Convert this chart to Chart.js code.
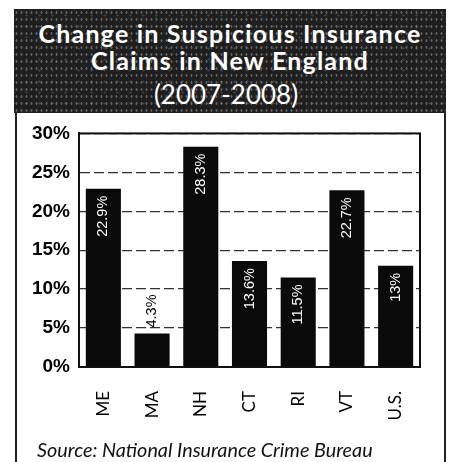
<!DOCTYPE html>
<html><head><meta charset="utf-8">
<script src="https://cdn.jsdelivr.net/npm/chart.js@4"></script>
<style>
html,body{margin:0;padding:0;background:#fff;width:453px;height:462px;overflow:hidden;}
#tb{position:absolute;left:14px;top:9px;width:432px;height:104px;background-color:#1e1e1e;
 background-image:radial-gradient(rgba(255,255,255,0.30) 0.7px, transparent 1.3px),radial-gradient(rgba(200,200,200,0.24) 0.7px, transparent 1.3px),radial-gradient(rgba(255,255,255,0.16) 0.9px, transparent 1.5px);
 background-size:5px 7px,9px 4px,13px 11px;background-position:0 0,2px 3px,6px 1px;}
.t{position:absolute;left:0;width:100%;text-align:center;color:#fff;font-family:Lato,"Open Sans",sans-serif;white-space:nowrap;}
#l1{top:9.5px;font-size:25px;font-weight:bold;line-height:28px;letter-spacing:1.2px;}
#l2{top:37px;font-size:25px;font-weight:bold;line-height:28px;letter-spacing:1.2px;}
#l3{top:70px;font-size:26px;font-weight:normal;line-height:30px;left:-4px;}
#frame{position:absolute;left:15px;top:113px;width:427px;height:360px;border-left:2px solid #222;border-right:2px solid #222;}
#wrap{position:absolute;left:0;top:113px;width:453px;height:330px;}
#src{position:absolute;left:37px;top:437px;font-family:Lato,"Open Sans",sans-serif;font-style:italic;font-size:19.8px;color:#111;white-space:nowrap;}
</style></head>
<body>
<div id="tb">
 <div class="t" id="l1">Change in Suspicious Insurance</div>
 <div class="t" id="l2">Claims in New England</div>
 <div class="t" id="l3">(2007-2008)</div>
</div>
<div id="frame"></div>
<div id="wrap"><canvas id="c"></canvas></div>
<div id="src">Source: National Insurance Crime Bureau</div>
<script>
const categories = ['ME','MA','NH','CT','RI','VT','U.S.'];
const values = [22.9, 4.3, 28.3, 13.6, 11.5, 22.7, 13];
const valueLabels = ['22.9%','4.3%','28.3%','13.6%','11.5%','22.7%','13%'];
const yMin = 0, yMax = 30, yStep = 5;

const valueLabelPlugin = {
  id: 'valueLabels',
  afterDatasetsDraw(chart) {
    const ctx = chart.ctx;
    const meta = chart.getDatasetMeta(0);
    ctx.save();
    ctx.font = '14.5px "Liberation Sans", Arial, sans-serif';
    meta.data.forEach((bar, i) => {
      const label = valueLabels[i];
      const w = ctx.measureText(label).width;
      const h = bar.base - bar.y;
      ctx.save();
      ctx.translate(bar.x, bar.y);
      ctx.rotate(-Math.PI / 2);
      ctx.textBaseline = 'middle';
      if (h > w + 14) {
        ctx.fillStyle = '#fff';
        ctx.textAlign = 'right';
        ctx.fillText(label, -7, 0);
      } else {
        ctx.fillStyle = '#000';
        ctx.textAlign = 'left';
        ctx.fillText(label, 6, 0);
      }
      ctx.restore();
    });
    ctx.restore();
  }
};
const framePlugin = {
  id: 'frameRect',
  afterDraw(chart) {
    const a = chart.chartArea, ctx = chart.ctx;
    ctx.save();
    ctx.strokeStyle = '#111';
    ctx.lineWidth = 2;
    ctx.strokeRect(a.left, a.top, a.right - a.left, a.bottom - a.top);
    ctx.restore();
  }
};

new Chart(document.getElementById('c'), {
  type: 'bar',
  data: {
    labels: categories,
    datasets: [{ data: values, backgroundColor: '#0a0a0a', barPercentage: 0.72, categoryPercentage: 1.0 }]
  },
  options: {
    responsive: true,
    maintainAspectRatio: false,
    animation: false,
    layout: { padding: { left: 0, right: 33, top: 20, bottom: 0 } },
    plugins: { legend: { display: false }, tooltip: { enabled: false } },
    scales: {
      x: {
        grid: { display: false, drawTicks: false },
        border: { display: true, color: '#111', width: 2 },
        ticks: { maxRotation: 90, minRotation: 90, padding: 24, color: '#000',
                 font: { family: 'Lato, "Open Sans", sans-serif', size: 17 } },
        afterFit(scale) { scale.height = 76; }
      },
      y: {
        min: yMin, max: yMax,
        grid: { color: '#333', lineWidth: 1.3, drawTicks: false },
        border: { display: true, color: '#111', width: 2, dash: [10, 4] },
        ticks: { stepSize: yStep, padding: 9, color: '#000',
                 font: { family: '"Liberation Sans", Arial, sans-serif', size: 19, weight: 'bold' },
                 callback: v => v + '%' },
        afterFit(scale) { scale.width = 79; }
      }
    }
  },
  plugins: [valueLabelPlugin, framePlugin]
});
</script>
</body></html>
